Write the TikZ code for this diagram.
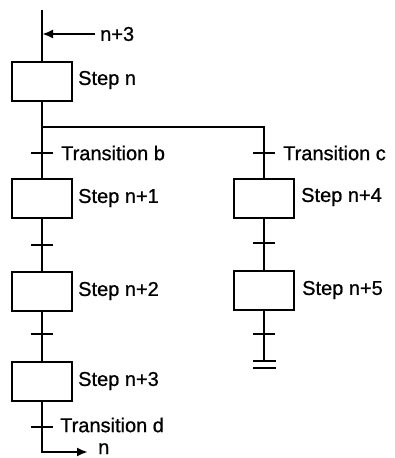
\documentclass[tikz,border=0pt]{standalone}
\usepackage{fontspec}
\setmainfont[FakeBold=0.8]{Liberation Sans}
\usetikzlibrary{arrows.meta}
\begin{document}
\begin{tikzpicture}[x=1pt,y=-1pt,
  stepbox/.style={draw,line width=2pt,minimum width=60pt,minimum height=39pt,inner sep=0pt},
  lbl/.style={anchor=west,inner sep=0pt,font=\fontsize{20}{23}\selectfont},
  flow/.style={line width=2.2pt},
  tick/.style={line width=2pt},
  arr/.style={-{Latex[length=11pt,width=9pt]}}]
\useasboundingbox (0,0) rectangle (395,458);
% steps
\node[stepbox] (s0) at (42,81.5) {};
\node[stepbox] (s1) at (42,198.5) {};
\node[stepbox] (s2) at (42,291) {};
\node[stepbox] (s3) at (42,381) {};
\node[stepbox] (s4) at (264,198) {};
\node[stepbox] (s5) at (264,290) {};
% labels
\node[lbl] (l0) at (78,80) {Step n};
\node[lbl] (l1) at (78,198) {Step n+1};
\node[lbl] (l2) at (78,291) {Step n+2};
\node[lbl] (l3) at (78,381) {Step n+3};
\node[lbl] (l4) at (301,197) {Step n+4};
\node[lbl] (l5) at (302,290) {Step n+5};
\node[lbl] (tb) at (61,153) {Transition b};
\node[lbl] (tc) at (283,153) {Transition c};
\node[lbl] (td) at (60,425) {Transition d};
\node[lbl] (in) at (100,34) {n+3};
\node[lbl,anchor=base west] (out) at (98,454) {n};
% coordinates
\coordinate (top) at (42,10);
\coordinate (entry) at (42,34);
\coordinate (arrstart) at (95,34);
\coordinate (split) at (42,127);
\coordinate (rsplit) at (264,127);
\coordinate (bot) at (42,452);
\coordinate (arrend) at (88,452);
\coordinate (rend) at (264,361);
\coordinate (e1a) at (253,361); \coordinate (e1b) at (276,361);
\coordinate (e2a) at (253,368); \coordinate (e2b) at (276,368);
% ticks
\foreach \n/\x/\y in {tkb/42/153, tk1/42/245, tk2/42/334, tkd/42/427, tkc/264/153, tk4/264/243, tk5/264/334}{
  \coordinate (\n) at (\x,\y);
  \draw[tick] ([xshift=-11pt]\n) -- ([xshift=11pt]\n);
}
% flow lines
\draw[flow] (top) -- (s0.north);
\draw[flow,arr] (arrstart) -- (entry);
\draw[flow] (s0.south) -- (s1.north);
\draw[flow] (split) -- (rsplit) -- (s4.north);
\draw[flow] (s1.south) -- (s2.north);
\draw[flow] (s2.south) -- (s3.north);
\draw[flow,arr] (s3.south) -- (bot) -- (arrend);
\draw[flow] (s4.south) -- (s5.north);
\draw[flow] (s5.south) -- (rend);
\draw[tick] (e1a) -- (e1b);
\draw[tick] (e2a) -- (e2b);
\end{tikzpicture}
\end{document}
